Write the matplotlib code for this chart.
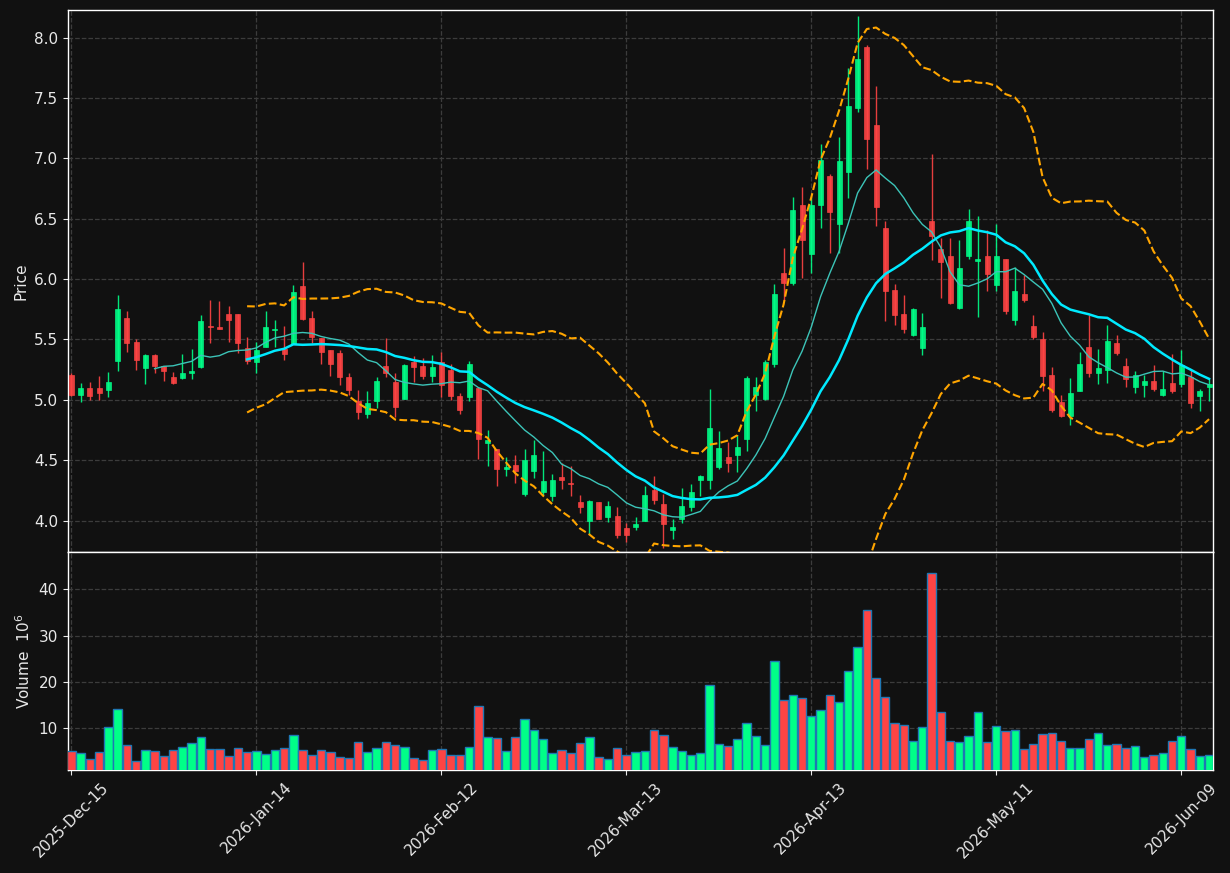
import numpy as np
import pandas as pd
import matplotlib
matplotlib.use('Agg')
import matplotlib.pyplot as plt

# daily OHLC (one entry per trading day)
opens = [5.21, 5.04, 5.10, 5.10, 5.08, 5.32, 5.68, 5.48, 5.26, 5.37,
         5.28, 5.19, 5.18, 5.22, 5.27, 5.61, 5.60, 5.71, 5.71, 5.43,
         5.31, 5.44, 5.58, 5.42, 5.46, 5.94, 5.68, 5.51, 5.41, 5.39,
         5.19, 4.99, 4.88, 4.99, 5.28, 5.15, 5.01, 5.31, 5.28, 5.20,
         5.31, 5.25, 5.03, 5.02, 5.10, 4.64, 4.59, 4.43, 4.46, 4.22,
         4.41, 4.24, 4.20, 4.36, 4.305, 4.15, 4.00, 4.15, 4.03, 4.04,
         3.94, 3.95, 4.00, 4.25, 4.14, 3.92, 4.01, 4.11, 4.34, 4.34,
         4.44, 4.53, 4.54, 4.68, 5.04, 5.01, 5.30, 6.05, 5.97, 6.61,
         6.21, 6.61, 6.85, 6.46, 6.89, 7.42, 7.92, 7.28, 6.42, 5.91,
         5.71, 5.54, 5.43, 6.48, 6.25, 6.19, 5.76, 6.19, 6.15, 6.19,
         5.95, 6.17, 5.66, 5.88, 5.61, 5.50, 5.21, 4.98, 4.87, 5.07,
         5.44, 5.22, 5.25, 5.47, 5.28, 5.11, 5.12, 5.16, 5.04, 5.14,
         5.13, 5.19, 5.03, 5.11]
highs = [5.22, 5.14, 5.15, 5.20, 5.23, 5.87, 5.74, 5.50, 5.38, 5.38,
         5.28, 5.23, 5.38, 5.42, 5.70, 5.83, 5.82, 5.78, 5.71, 5.52,
         5.48, 5.74, 5.66, 5.61, 5.95, 6.14, 5.74, 5.51, 5.41, 5.41,
         5.22, 5.08, 5.07, 5.19, 5.51, 5.22, 5.30, 5.36, 5.35, 5.37,
         5.40, 5.30, 5.06, 5.32, 5.11, 4.75, 4.59, 4.53, 4.54, 4.59,
         4.67, 4.58, 4.39, 4.48, 4.45, 4.21, 4.17, 4.15, 4.16, 4.11,
         3.98, 4.03, 4.29, 4.37, 4.22, 4.01, 4.27, 4.30, 4.38, 5.09,
         4.74, 4.65, 4.71, 5.20, 5.19, 5.33, 5.96, 6.26, 6.68, 6.76,
         6.68, 7.12, 6.87, 7.18, 7.75, 8.18, 7.94, 7.60, 6.48, 5.96,
         5.87, 5.76, 5.72, 7.04, 6.34, 6.34, 6.32, 6.58, 6.52, 6.41,
         6.46, 6.17, 6.10, 6.03, 5.70, 5.56, 5.27, 5.04, 5.18, 5.40,
         5.70, 5.42, 5.62, 5.54, 5.35, 5.24, 5.21, 5.29, 5.24, 5.38,
         5.41, 5.25, 5.09, 5.17]
lows = [5.03, 4.98, 5.00, 5.00, 5.02, 5.24, 5.40, 5.25, 5.13, 5.22,
        5.16, 5.13, 5.17, 5.17, 5.26, 5.47, 5.59, 5.48, 5.39, 5.30,
        5.22, 5.44, 5.44, 5.33, 5.46, 5.66, 5.47, 5.30, 5.20, 5.12,
        5.04, 4.84, 4.85, 4.93, 5.19, 4.86, 5.01, 5.15, 5.17, 5.15,
        5.02, 5.00, 4.88, 4.99, 4.51, 4.45, 4.29, 4.37, 4.31, 4.20,
        4.35, 4.21, 4.16, 4.26, 4.20, 4.06, 3.89, 4.01, 3.99, 3.86,
        3.82, 3.92, 4.00, 4.14, 3.77, 3.85, 3.98, 4.08, 4.20, 4.26,
        4.43, 4.40, 4.40, 4.58, 4.91, 5.00, 5.27, 5.83, 5.95, 6.01,
        6.05, 6.42, 6.22, 6.22, 6.67, 7.38, 6.91, 6.44, 5.65, 5.62,
        5.55, 5.53, 5.37, 6.16, 5.84, 5.79, 5.75, 6.17, 5.69, 5.90,
        5.90, 5.71, 5.62, 5.81, 5.50, 5.07, 4.90, 4.86, 4.79, 5.07,
        5.19, 5.13, 5.14, 5.37, 5.11, 5.06, 5.02, 5.07, 5.03, 5.06,
        5.11, 4.93, 4.91, 4.99]
closes = [5.04, 5.10, 5.03, 5.06, 5.15, 5.75, 5.47, 5.33, 5.37, 5.28,
          5.24, 5.14, 5.22, 5.24, 5.65, 5.60, 5.59, 5.66, 5.47, 5.32,
          5.41, 5.60, 5.59, 5.38, 5.89, 5.67, 5.52, 5.40, 5.30, 5.19,
          5.08, 4.90, 4.97, 5.16, 5.22, 4.94, 5.29, 5.27, 5.20, 5.27,
          5.12, 5.03, 4.92, 5.30, 4.68, 4.67, 4.43, 4.44, 4.41, 4.50,
          4.54, 4.33, 4.34, 4.34, 4.30, 4.11, 4.16, 4.01, 4.12, 3.88,
          3.88, 3.97, 4.21, 4.17, 3.97, 3.95, 4.12, 4.24, 4.37, 4.77,
          4.60, 4.48, 4.61, 5.18, 5.11, 5.31, 5.88, 5.97, 6.57, 6.32,
          6.61, 6.99, 6.56, 6.98, 7.43, 7.82, 7.16, 6.60, 5.90, 5.70,
          5.59, 5.75, 5.60, 6.36, 6.14, 5.80, 6.09, 6.48, 6.17, 6.04,
          6.19, 5.74, 5.90, 5.83, 5.52, 5.20, 4.92, 4.87, 5.06, 5.30,
          5.22, 5.26, 5.49, 5.39, 5.17, 5.21, 5.16, 5.09, 5.09, 5.07,
          5.29, 4.97, 5.07, 5.13]
# volume in millions
volumes = [4.95, 4.52, 3.22, 4.74, 10.14, 14.04, 6.25, 2.79, 5.17, 4.95,
           3.87, 5.17, 5.82, 6.68, 7.98, 5.39, 5.39, 3.87, 5.60, 4.74,
           4.95, 4.30, 5.17, 5.60, 8.41, 5.17, 4.09, 5.17, 4.74, 3.66,
           3.44, 6.90, 4.74, 5.60, 6.90, 6.25, 5.82, 3.44, 3.00, 5.17,
           5.39, 4.09, 4.09, 5.82, 14.69, 7.98, 7.76, 4.95, 7.98, 11.87,
           9.50, 7.55, 4.52, 5.17, 4.52, 6.68, 7.98, 3.66, 3.22, 5.60,
           4.09, 4.74, 4.95, 9.50, 8.41, 5.82, 4.95, 4.09, 4.52, 19.23,
           6.47, 6.03, 7.55, 11.01, 8.20, 6.25, 24.42, 15.98, 17.07, 16.42,
           12.52, 13.82, 17.07, 15.55, 22.26, 27.59, 35.45, 20.74, 16.63, 11.01,
           10.58, 7.12, 10.14, 43.45, 13.39, 7.12, 6.90, 8.20, 13.39, 6.90,
           10.36, 9.28, 9.50, 5.39, 6.47, 8.63, 8.85, 7.12, 5.60, 5.60,
           7.55, 8.85, 6.25, 6.47, 5.60, 6.03, 3.66, 4.09, 4.52, 7.12,
           8.20, 5.39, 3.87, 4.09]
tick_labels = ['2025-Dec-15', '2026-Jan-14', '2026-Feb-12', '2026-Mar-13',
               '2026-Apr-13', '2026-May-11', '2026-Jun-09']

df = pd.DataFrame({'Open': opens, 'High': highs, 'Low': lows,
                   'Close': closes, 'Volume': volumes})
x = np.arange(len(df))
up = df['Close'] >= df['Open']

bg = '#111111'
fg = '#e8e8e8'
up_col = '#00ff88'
down_col = '#ff4444'
colors = np.where(up, up_col, down_col)

plt.rcParams['font.size'] = 11
fig = plt.figure(figsize=(12.3, 8.73), dpi=100, facecolor=bg)
ax = fig.add_axes([0.055, 0.3677, 0.931, 0.621])
axv = fig.add_axes([0.055, 0.118, 0.931, 0.2497], sharex=ax)

for a in (ax, axv):
    a.set_facecolor(bg)
    for s in a.spines.values():
        s.set_color('white')
        s.set_linewidth(1.0)
    a.grid(True, color='#3c3c3c', linestyle='--', linewidth=0.9)
    a.set_axisbelow(True)
    a.tick_params(colors=fg, labelsize=11)

# candles
ax.vlines(x, df['Low'], df['High'], colors=colors, linewidth=1.0, alpha=0.9, zorder=2)
body_lo = np.minimum(df['Open'], df['Close'])
body_h = np.maximum((df['Close'] - df['Open']).abs(), 0.01)
ax.bar(x, body_h, bottom=body_lo, width=0.55, color=colors, edgecolor=colors,
       linewidth=0.5, alpha=0.9, zorder=3)

# moving averages and bollinger bands
ma10 = df['Close'].rolling(10).mean()
ma20 = df['Close'].rolling(20).mean()
sd20 = df['Close'].rolling(20).std(ddof=0)
ax.plot(x, ma10, color='#3cc4b8', linewidth=1.0, zorder=4)
ax.plot(x, ma20, color='#00eaff', linewidth=1.8, zorder=4)
ax.plot(x, ma20 + 2 * sd20, color='#ffa500', linestyle='--', linewidth=1.5, zorder=4)
ax.plot(x, ma20 - 2 * sd20, color='#ffa500', linestyle='--', linewidth=1.5, zorder=4)

ax.set_ylim(3.74, 8.23)
ax.set_yticks([4.0, 4.5, 5.0, 5.5, 6.0, 6.5, 7.0, 7.5, 8.0])
ax.set_ylabel('Price', color=fg)
ax.tick_params(axis='x', labelbottom=False, length=0)

# volume
axv.bar(x, df['Volume'], width=0.9, color=colors, edgecolor='#1f77b4', linewidth=1.0, zorder=3)
axv.set_ylim(0.85, 48.1)
axv.set_yticks([10, 20, 30, 40])
axv.set_ylabel('Volume  $10^{6}$', color=fg)

ticks = np.arange(0, len(df), 20)
axv.set_xticks(ticks)
axv.set_xticklabels(tick_labels, rotation=45, ha='center')
axv.set_xlim(-0.4, 123.4)

fig.savefig('out.png', facecolor=bg)
